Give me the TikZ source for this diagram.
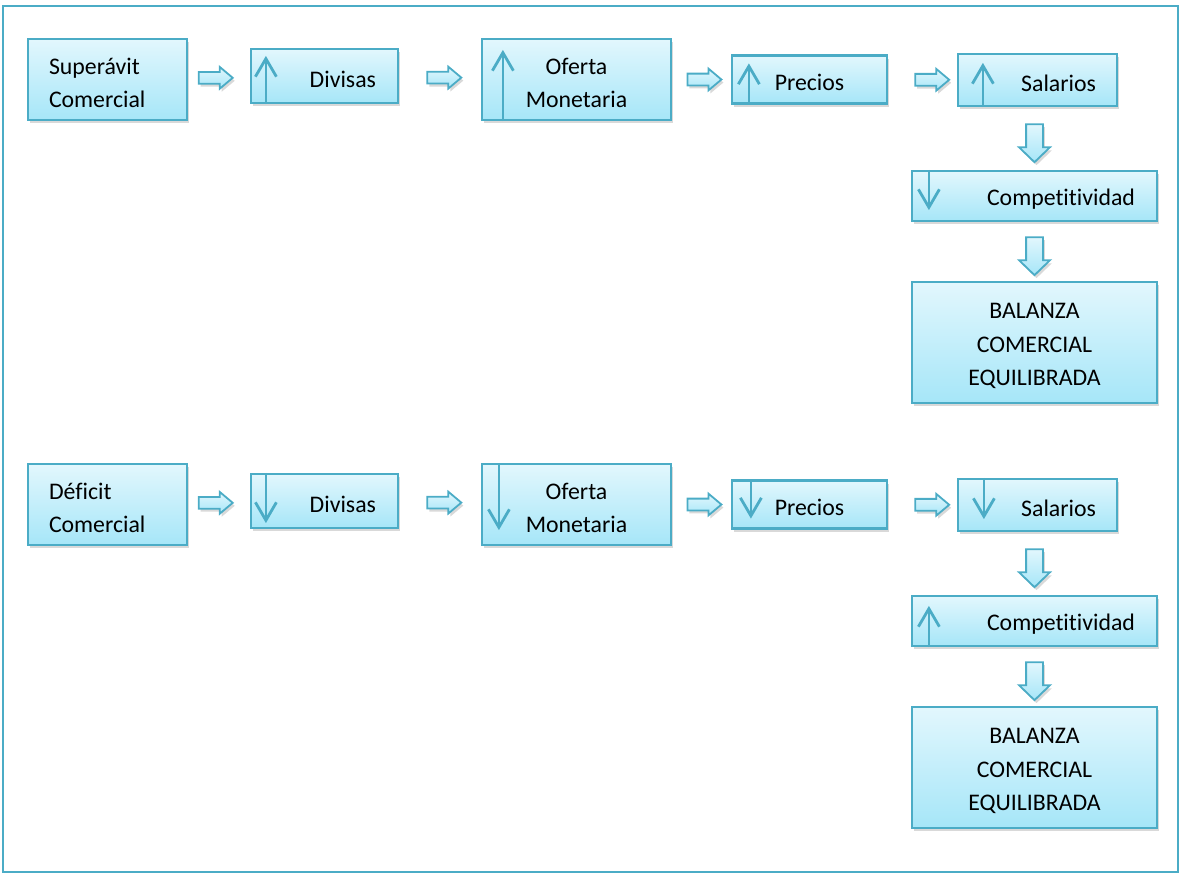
\documentclass[tikz,border=0pt]{standalone}
\usepackage{fontspec}
\setmainfont{Carlito}[Ligatures=NoCommon]
\usetikzlibrary{shapes.arrows}
\usetikzlibrary{arrows.meta}
\usetikzlibrary{shadows}
\usetikzlibrary{calc}
\definecolor{aqua}{HTML}{4BACC6}
\definecolor{aquatop}{HTML}{E2F7FD}
\definecolor{aquabot}{HTML}{A6E6F8}

\begin{document}
\begin{tikzpicture}[x=0.5pt, y=-0.5pt,
    box/.style={draw=aqua, line width=1.1pt, top color=aquatop, bottom color=aquabot,
      drop shadow={shadow xshift=1pt, shadow yshift=-1.5pt, opacity=0.3},
      inner sep=0pt, text height=11.5pt, font=\fontsize{11.9}{16.5}\selectfont},
    harrow/.style={single arrow, draw=aqua, line width=0.9pt, top color=aquatop, bottom color=aquabot,
      drop shadow={shadow xshift=1pt, shadow yshift=-1.5pt, opacity=0.3},
      minimum height=17pt, inner sep=2.5pt, single arrow head extend=2.5pt,
      single arrow tip angle=80},
    varrow/.style={harrow, shape border rotate=270, minimum height=19pt, inner sep=3.75pt,
      single arrow head extend=3.5pt, single arrow tip angle=92},
    ind/.style={draw=aqua, line width=1.4pt, -{Straight Barb[length=9pt, width=10.5pt]}}]
  \useasboundingbox (0,0) rectangle (1180,875);
  \draw[aqua, line width=1.3pt] (3,6) rectangle (1178,872);

  % upper chain: superavit
  \node[box, minimum width=79.5pt, minimum height=40.5pt, text width=58.5pt, align=left] (superavit) at (107.5,79.5) {Superávit\\Comercial};
  \node[box, minimum width=73.5pt, minimum height=27pt, text width=51.5pt, align=right] (divisas1) at (324.5,76) {Divisas};
  \node[box, minimum width=94.5pt, minimum height=40.5pt, text width=80pt, align=center] (oferta1) at (576.5,79.5) {Oferta\\Monetaria};
  \node[box, minimum width=77.5pt, minimum height=24pt] (precios1) at (809.5,79.5) {Precios};
  \node[box, minimum width=79.5pt, minimum height=26pt, text width=58.5pt, align=right] (salarios1) at (1037.5,80) {Salarios};
  \node[box, minimum width=122.5pt, minimum height=25pt, text width=100.5pt, align=right] (compet1) at (1034.5,196) {Competitividad};
  \node[box, minimum width=122.5pt, minimum height=60.5pt, text width=100pt, align=center,
    font=\fontsize{11.9}{16.75}\selectfont] (balanza1) at (1034.5,342.5) {BALANZA\\COMERCIAL\\EQUILIBRADA};

  \path (superavit) -- node[harrow, pos=0.39] {} (divisas1);
  \path (divisas1) -- node[harrow, pos=0.51] {} (oferta1);
  \path (oferta1) -- node[harrow, pos=0.49] {} (precios1);
  \path (precios1) -- node[harrow, pos=0.59] {} (salarios1);
  \path (salarios1.south -| compet1.north) -- node[varrow, pos=0.51] {} (compet1.north);
  \path (compet1) -- node[varrow, pos=0.51] {} (balanza1);

  \draw[ind] ($(divisas1.south west)+(16,0)$) -- ($(divisas1.north west)+(16,8)$);
  \draw[ind] ($(oferta1.south west)+(22,0)$) -- ($(oferta1.north west)+(22,12)$);
  \draw[ind] ($(precios1.south west)+(18,0)$) -- ($(precios1.north west)+(18,9)$);
  \draw[ind] ($(salarios1.south west)+(26,0)$) -- ($(salarios1.north west)+(26,10)$);
  \draw[ind] ($(compet1.north west)+(18,0)$) -- ($(compet1.south west)+(18,-12)$);

  % lower chain: deficit
  \node[box, minimum width=79.5pt, minimum height=40.5pt, text width=58.5pt, align=left] (deficit) at (107.5,504.5) {Déficit\\Comercial};
  \node[box, minimum width=73.5pt, minimum height=27pt, text width=51.5pt, align=right] (divisas2) at (324.5,501) {Divisas};
  \node[box, minimum width=94.5pt, minimum height=40.5pt, text width=80pt, align=center] (oferta2) at (576.5,504.5) {Oferta\\Monetaria};
  \node[box, minimum width=77.5pt, minimum height=24pt] (precios2) at (809.5,504.5) {Precios};
  \node[box, minimum width=79.5pt, minimum height=26pt, text width=58.5pt, align=right] (salarios2) at (1037.5,505) {Salarios};
  \node[box, minimum width=122.5pt, minimum height=25pt, text width=100.5pt, align=right] (compet2) at (1034.5,621) {Competitividad};
  \node[box, minimum width=122.5pt, minimum height=60.5pt, text width=100pt, align=center,
    font=\fontsize{11.9}{16.75}\selectfont] (balanza2) at (1034.5,767.5) {BALANZA\\COMERCIAL\\EQUILIBRADA};

  \path (deficit) -- node[harrow, pos=0.39] {} (divisas2);
  \path (divisas2) -- node[harrow, pos=0.51] {} (oferta2);
  \path (oferta2) -- node[harrow, pos=0.49] {} (precios2);
  \path (precios2) -- node[harrow, pos=0.59] {} (salarios2);
  \path (salarios2.south -| compet2.north) -- node[varrow, pos=0.51] {} (compet2.north);
  \path (compet2) -- node[varrow, pos=0.51] {} (balanza2);

  \draw[ind] ($(divisas2.north west)+(16,0)$) -- ($(divisas2.south west)+(16,-6)$);
  \draw[ind] ($(oferta2.north west)+(18,0)$) -- ($(oferta2.south west)+(18,-16)$);
  \draw[ind] ($(precios2.north west)+(20,0)$) -- ($(precios2.south west)+(20,-11)$);
  \draw[ind] ($(salarios2.north west)+(27,0)$) -- ($(salarios2.south west)+(27,-13)$);
  \draw[ind] ($(compet2.south west)+(18,0)$) -- ($(compet2.north west)+(18,11)$);
\end{tikzpicture}
\end{document}
